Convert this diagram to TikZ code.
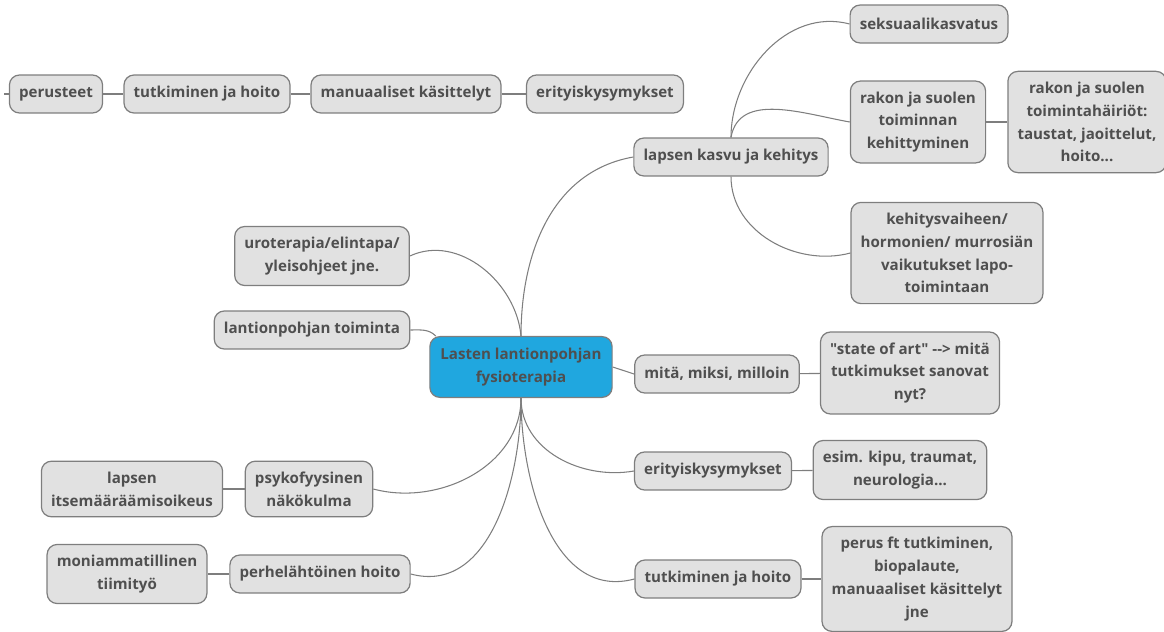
\documentclass[tikz,border=0pt]{standalone}
\usepackage{fontspec}
\newfontfamily\mapfont{Open Sans}
\usepackage{tikz}
\definecolor{boxgray}{HTML}{E1E1E1}
\definecolor{edgegray}{HTML}{7E7E7E}
\definecolor{txtgray}{HTML}{4F4F4F}
\definecolor{rootblue}{HTML}{20A7DF}

\begin{document}
\begin{tikzpicture}[x=0.02cm,y=-0.02cm,
  topic/.style={draw=edgegray, line width=0.7pt, fill=boxgray, rounded corners=0.2cm,
    text=txtgray, font=\mapfont\bfseries\fontsize{8.6}{13}\selectfont, align=center,
    inner xsep=5.5pt, inner ysep=6pt, minimum height=0.76cm},
  roottopic/.style={topic, fill=rootblue, inner xsep=6pt, inner ysep=6.5pt},
  link/.style={draw=edgegray, line width=0.6pt}]
\useasboundingbox (0,0) rectangle (1164,632);

% keskus
\node[roottopic] (root) at (521,367) {Lasten lantionpohjan\\fysioterapia};

% oikea puoli
\node[topic] (kasvu) at (731,157) {lapsen kasvu ja kehitys};
\node[topic] (seks) at (929,24) {seksuaalikasvatus};
\node[topic] (rakon) at (918,122) {rakon ja suolen\\toiminnan\\kehittyminen};
\node[topic] (hairiot) at (1087,122) {rakon ja suolen\\toimintahäiriöt:\\taustat, jaoittelut,\\hoito...};
\node[topic] (vaihe) at (947,253) {kehitysvaiheen/\\hormonien/ murrosiän\\vaikutukset lapo-\\toimintaan};
\node[topic] (mita) at (717,374) {mitä, miksi, milloin};
\node[topic] (state) at (910,373) {"state of art" --> mitä\\tutkimukset sanovat\\nyt?};
\node[topic] (erit) at (713,471) {erityiskysymykset};
\node[topic] (esim) at (900,470) {esim. kipu, traumat,\\neurologia...};
\node[topic] (tutk) at (718,579) {tutkiminen ja hoito};
\node[topic] (perusft) at (917,579) {perus ft tutkiminen,\\biopalaute,\\manuaaliset käsittelyt\\jne};

% vasen puoli
\node[topic] (uro) at (322,256) {uroterapia/elintapa/\\yleisohjeet jne.};
\node[topic] (lantion) at (312,330) {lantionpohjan toiminta};
\node[topic] (psyko) at (309,489) {psykofyysinen\\näkökulma};
\node[topic] (itse) at (132,489) {lapsen\\itsemääräämisoikeus};
\node[topic] (perhe) at (320,574) {perhelähtöinen hoito};
\node[topic] (moni) at (127,574) {moniammatillinen\\tiimityö};

% ylärivi
\node[topic] (perusteet) at (56,94) {perusteet};
\node[topic] (tutk2) at (207,94) {tutkiminen ja hoito};
\node[topic] (manu) at (406,94) {manuaaliset käsittelyt};
\node[topic] (erit2) at (605,94) {erityiskysymykset};
\coordinate (stub) at (4,94);

% yhteydet
\draw[link] (root.north) to[out=90,in=190] (kasvu.west);
\draw[link] (root.north) to[out=95,in=25] (uro.east);
\draw[link] (lantion.east) to[out=0,in=135] (root.160);
\draw[link] (root.east) -- (mita.west);
\draw[link] (root.south) to[out=-90,in=190] (erit.west);
\draw[link] (root.south) to[out=-90,in=195] (tutk.west);
\draw[link] (root.south) to[out=-90,in=-15] (psyko.east);
\draw[link] (root.south) to[out=-90,in=-15] (perhe.east);
\draw[link] (kasvu.north) to[out=90,in=165] (seks.west);
\draw[link] (kasvu.north) to[out=80,in=170] (rakon.west);
\draw[link] (kasvu.south) to[out=-90,in=195] (vaihe.west);
\draw[link] (rakon) -- (hairiot);
\draw[link] (mita) -- (state);
\draw[link] (erit) -- (esim);
\draw[link] (tutk) -- (perusft);
\draw[link] (psyko) -- (itse);
\draw[link] (perhe) -- (moni);
\draw[link] (stub) -- (perusteet) -- (tutk2) -- (manu) -- (erit2);
\end{tikzpicture}
\end{document}
